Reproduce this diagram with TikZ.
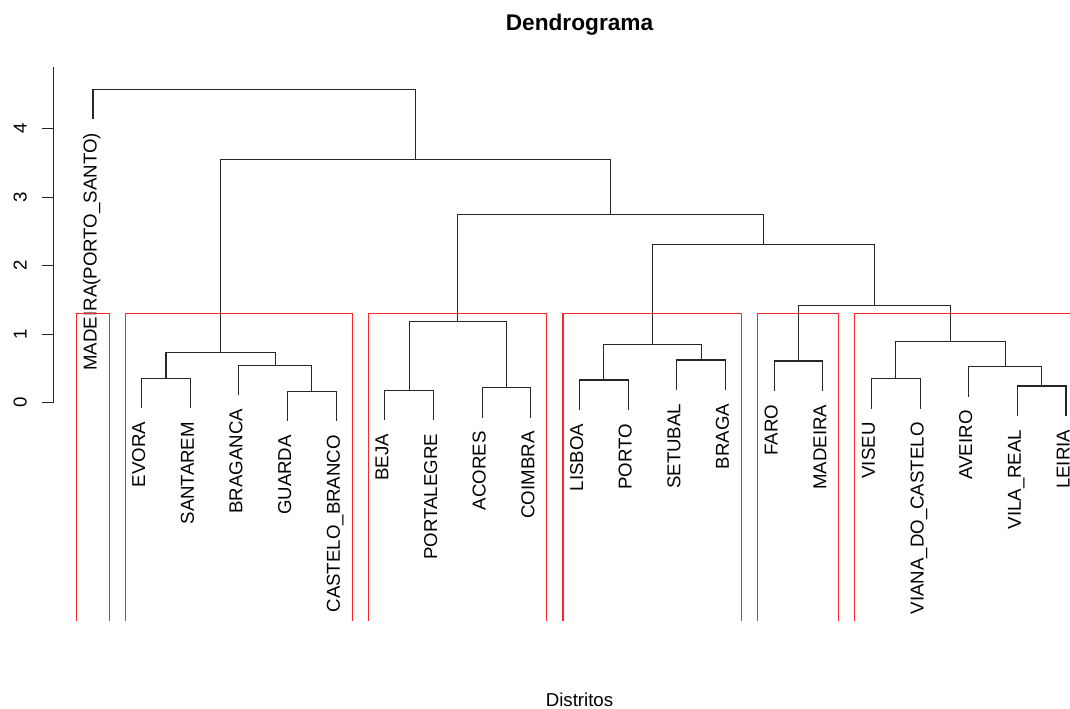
\documentclass[tikz,border=0pt]{standalone}
\usepackage{fontspec}
\setmainfont{Liberation Sans}
\usepackage{tikz}
\usetikzlibrary{
  calc,%
  positioning
}
\newcommand{\leaffont}{\fontsize{14}{16}\selectfont}
\newcommand{\headfont}{\fontsize{17}{20}\selectfont\bfseries}
\tikzset{branch/.style={line width=0.8pt, black!85}}
\tikzset{cutbox/.style={line width=0.8pt, red!85}}
\tikzset{leaflabel/.style={rotate=90, anchor=mid east, inner sep=0pt, font=\leaffont}}
\tikzset{ticklabel/.style={rotate=90, anchor=base, inner sep=0pt, font=\leaffont}}

\begin{document}
\begin{tikzpicture}[x=36.4875pt, y=51.375pt]
  \useasboundingbox (-0.9116,-4.4715) rectangle (21.0822,5.8788);
  \clip (-0.9116,-4.4715) rectangle (21.0822,5.8788);

  % title and axis label
  \node[font=\headfont, anchor=base] (title) at (11,5.439) {Dendrograma};
  \node[font=\leaffont, anchor=base] (xlab) at (11,-4.428) {Distritos};

  % height axis
  \draw[branch] (0.184,0) -- (0.184,4.9);
  \foreach \t in {0,...,4} {
    \draw[branch] (0.184,\t) -- (-0.042,\t);
    \node[ticklabel] (tick\t) at (-0.363,\t) {\t};
  }

  % leaves hang 0.44 below their merge
  \foreach \i/\h/\name in {1/4.575/MADEIRA(PORTO\_SANTO), 2/0.356/EVORA,
      3/0.356/SANTAREM, 4/0.546/BRAGANCA, 5/0.166/GUARDA,
      6/0.166/CASTELO\_BRANCO, 7/0.181/BEJA, 8/0.181/PORTALEGRE,
      9/0.219/ACORES, 10/0.219/COIMBRA, 11/0.331/LISBOA, 12/0.331/PORTO,
      13/0.623/SETUBAL, 14/0.623/BRAGA, 15/0.609/FARO, 16/0.609/MADEIRA,
      17/0.35/VISEU, 18/0.35/VIANA\_DO\_CASTELO, 19/0.526/AVEIRO,
      20/0.244/VILA\_REAL, 21/0.244/LEIRIA} {
    \coordinate (l\i) at (\i,\h-0.44);
    \node[leaflabel] (lab\i) at ([yshift=-10pt]l\i) {\name};
  }

  % merges
  \coordinate (evosan) at (2.5,0.356);
  \coordinate (gcb) at (5.5,0.166);
  \coordinate (bgcb) at (4.75,0.546);
  \coordinate (interior) at (3.625,0.73);
  \coordinate (bejapor) at (7.5,0.181);
  \coordinate (acocoi) at (9.5,0.219);
  \coordinate (southcl) at (8.5,1.182);
  \coordinate (lispor) at (11.5,0.331);
  \coordinate (setbra) at (13.5,0.623);
  \coordinate (coastcl) at (12.5,0.847);
  \coordinate (faromad) at (15.5,0.609);
  \coordinate (visvia) at (17.5,0.35);
  \coordinate (vrlei) at (20.5,0.244);
  \coordinate (avevr) at (19.75,0.526);
  \coordinate (northcl) at (18.625,0.90);
  \coordinate (islandcl) at (17.0625,1.422);
  \coordinate (westcl) at (14.78125,2.31);
  \coordinate (restcl) at (11.640625,2.745);
  \coordinate (mainland) at (7.6328125,3.547);
  \coordinate (root) at (4.31640625,4.575);

  \draw[branch] (l2) |- (evosan) -| (l3);
  \draw[branch] (l5) |- (gcb) -| (l6);
  \draw[branch] (l4) |- (bgcb) -| (gcb);
  \draw[branch] (evosan) |- (interior) -| (bgcb);
  \draw[branch] (l7) |- (bejapor) -| (l8);
  \draw[branch] (l9) |- (acocoi) -| (l10);
  \draw[branch] (bejapor) |- (southcl) -| (acocoi);
  \draw[branch] (l11) |- (lispor) -| (l12);
  \draw[branch] (l13) |- (setbra) -| (l14);
  \draw[branch] (lispor) |- (coastcl) -| (setbra);
  \draw[branch] (l15) |- (faromad) -| (l16);
  \draw[branch] (l17) |- (visvia) -| (l18);
  \draw[branch] (l20) |- (vrlei) -| (l21);
  \draw[branch] (l19) |- (avevr) -| (vrlei);
  \draw[branch] (visvia) |- (northcl) -| (avevr);
  \draw[branch] (faromad) |- (islandcl) -| (northcl);
  \draw[branch] (coastcl) |- (westcl) -| (islandcl);
  \draw[branch] (southcl) |- (restcl) -| (westcl);
  \draw[branch] (interior) |- (mainland) -| (restcl);
  \draw[branch] (l1) |- (root) -| (mainland);

  % six clusters
  \foreach \a/\b in {0.66/1.33, 1.66/6.33, 6.66/10.33, 10.66/14.33,
      14.66/16.33, 16.66/21.33}
    \draw[cutbox] (\a,-3.18) -- (\a,1.302) -- (\b,1.302) -- (\b,-3.18);
\end{tikzpicture}
\end{document}
